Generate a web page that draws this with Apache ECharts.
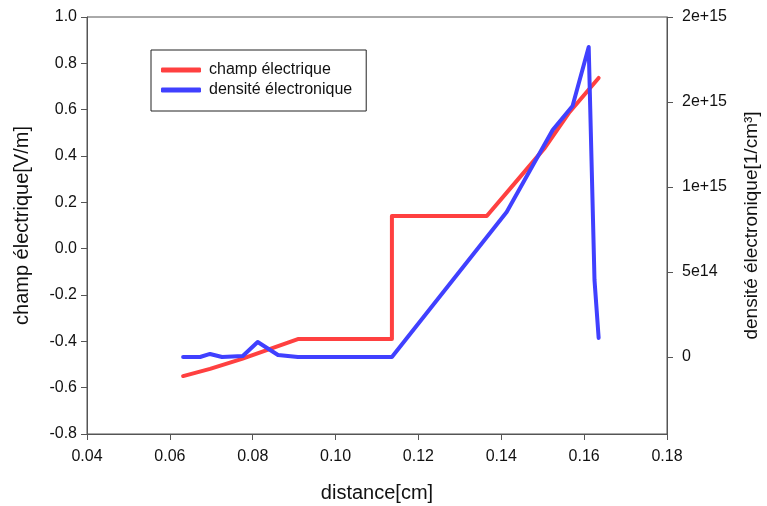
<!DOCTYPE html>
<html>
<head>
<meta charset="utf-8">
<script src="https://cdn.jsdelivr.net/npm/echarts@6/dist/echarts.min.js"></script>
<style>
html,body{margin:0;padding:0;background:#fff;}
#chart{width:767px;height:506px;}
</style>
</head>
<body>
<div id="chart"></div>
<script>
// ---- data ----
var fieldX = [0.0632, 0.0697, 0.0774, 0.0909, 0.1136, 0.1136, 0.1365, 0.1427, 0.1505, 0.1565, 0.1635];
var fieldY = [-0.550, -0.519, -0.476, -0.390, -0.390, 0.141, 0.141, 0.271, 0.435, 0.590, 0.737];

var densX = [0.0632, 0.0673, 0.0697, 0.0726, 0.0776, 0.0812, 0.0861, 0.0909, 0.1136, 0.1413, 0.1524, 0.1572, 0.1611, 0.1625, 0.1635];
var densY = [0, 0, 1.8e13, 0, 6e12, 8.8e13, 1.2e13, 0, 0, 8.53e14, 1.335e15, 1.476e15, 1.824e15, 4.53e14, 1.12e14];

var seriesNames = ['champ électrique', 'densité électronique'];
var rightTickValues = [0, 5e14, 1e15, 1.5e15, 2e15];
var rightTickLabels = ['0', '5e14', '1e+15', '2e+15', '2e+15'];

function pairs(xs, ys) { return xs.map(function (x, i) { return [x, ys[i]]; }); }

var FONT = 'Liberation Sans, Arial, sans-serif';
var AXC = '#555';
var chart = echarts.init(document.getElementById('chart'), null, {renderer: 'canvas'});
chart.setOption({
  animation: false,
  backgroundColor: '#fff',
  textStyle: {fontFamily: FONT},
  grid: {left: 87, right: 100, top: 17, bottom: 72, show: true, borderColor: AXC, borderWidth: 1,
    backgroundColor: 'transparent', containLabel: false, outerBoundsMode: 'none'},
  legend: {
    orient: 'vertical', left: 151, top: 50,
    data: seriesNames,
    icon: 'roundRect', itemWidth: 40, itemHeight: 5, itemGap: 4,
    padding: [12, 14, 13, 10],
    borderColor: '#222', borderWidth: 1,
    textStyle: {fontSize: 16, color: '#111', fontFamily: FONT, padding: [0, 0, 0, 3]}
  },
  xAxis: {
    type: 'value', min: 0.04, max: 0.18, interval: 0.02,
    name: 'distance[cm]', nameLocation: 'middle', nameGap: 49,
    nameTextStyle: {fontSize: 20, color: '#111', fontFamily: FONT},
    axisLine: {show: true, onZero: false, lineStyle: {color: AXC, width: 1}},
    axisTick: {show: true, inside: false, length: 6, lineStyle: {color: AXC}},
    axisLabel: {fontSize: 16, color: '#111', margin: 15, formatter: function (v) { return v.toFixed(2); }},
    splitLine: {show: false}
  },
  yAxis: [{
    type: 'value', min: -0.8, max: 1.0, interval: 0.2,
    name: 'champ électrique[V/m]', nameLocation: 'middle', nameGap: 55, nameRotate: 90,
    nameTextStyle: {fontSize: 20, color: '#111', fontFamily: FONT},
    axisLine: {show: true, onZero: false, lineStyle: {color: AXC, width: 1}},
    axisTick: {show: true, inside: false, length: 6, lineStyle: {color: AXC}},
    axisLabel: {fontSize: 16, color: '#111', margin: 10, formatter: function (v) { return v.toFixed(1); }},
    splitLine: {show: false}
  }, {
    type: 'value', position: 'right', min: -2e15 * 77 / 340, max: 2e15,
    name: 'densité électronique[1/cm³]', nameLocation: 'middle', nameGap: 75, nameRotate: 90,
    nameTextStyle: {fontSize: 19, color: '#111', fontFamily: FONT},
    axisLine: {show: true, onZero: false, lineStyle: {color: AXC, width: 1}},
    axisTick: {show: true, inside: false, length: 6, lineStyle: {color: AXC}, customValues: rightTickValues},
    axisLabel: {fontSize: 16, color: '#111', margin: 15, customValues: rightTickValues,
      formatter: function (v) { var i = rightTickValues.indexOf(v); return i >= 0 ? rightTickLabels[i] : ''; }},
    splitLine: {show: false}
  }],
  series: [{
    name: seriesNames[0], type: 'line', yAxisIndex: 0,
    data: pairs(fieldX, fieldY), showSymbol: false, symbol: 'none',
    lineStyle: {color: '#ff4040', width: 4, cap: 'round', join: 'round'},
    itemStyle: {color: '#ff4040'}, z: 2
  }, {
    name: seriesNames[1], type: 'line', yAxisIndex: 1,
    data: pairs(densX, densY), showSymbol: false, symbol: 'none',
    lineStyle: {color: '#4040ff', width: 4, cap: 'round', join: 'round'},
    itemStyle: {color: '#4040ff'}, z: 3
  }]
});
</script>
</body>
</html>
